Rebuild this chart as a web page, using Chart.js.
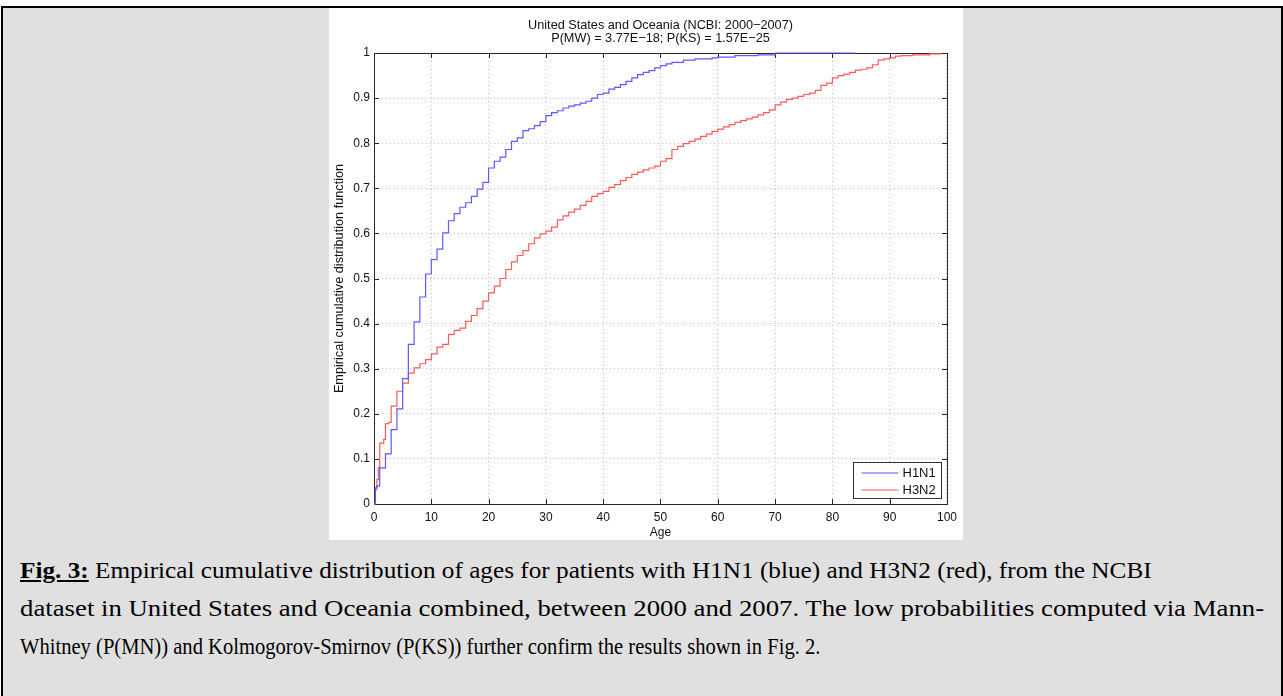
<!DOCTYPE html>
<html>
<head>
<meta charset="utf-8">
<script src="https://cdn.jsdelivr.net/npm/chart.js@4"></script>
<style>
  html, body { margin: 0; padding: 0; background: #fff; }
  #frame {
    position: absolute; left: 1px; top: 6px; width: 1278px; height: 700px;
    border: 2px solid #000; border-bottom: none; background: #e0e0e0;
  }
  #panel {
    position: absolute; left: 329px; top: 8px; width: 634px; height: 532px; background: #fff;
  }
  .cap {
    position: absolute; left: 20px; white-space: nowrap; transform-origin: 0 50%;
    font-family: "Liberation Serif", "Times New Roman", serif; font-size: 23px; line-height: 38px; color: #000;
  }
  .cap b { text-decoration: underline; }
</style>
</head>
<body>
<div id="frame"></div>
<div id="panel"><canvas id="ecdfChart"></canvas></div>
<div class="cap" style="top:552px; transform: scaleX(1.097)"><b>Fig. 3:</b> Empirical cumulative distribution of ages for patients with H1N1 (blue) and H3N2 (red), from the NCBI</div>
<div class="cap" style="top:590px; transform: scaleX(1.164)">dataset in United States and Oceania combined, between 2000 and 2007. The low probabilities computed via Mann-</div>
<div class="cap" style="top:628px; transform: scaleX(0.895)">Whitney (P(MN)) and Kolmogorov-Smirnov (P(KS)) further confirm the results shown in Fig. 2.</div>
<script>
const titleLines = ['United States and Oceania (NCBI: 2000\u22122007)', 'P(MW) = 3.77E\u221218; P(KS) = 1.57E\u221225'];
const seriesNames = ['H1N1', 'H3N2'];

// H1N1 ecdf steps (age, F)
const agesH1N1 = [0, 0.25, 0.5, 1, 2, 3, 4, 5, 6, 7, 8, 9, 10, 11, 12, 13, 14, 15, 16, 17, 18, 19, 20,
  21, 22, 23, 24, 25, 26, 27, 28, 29, 30, 31, 32, 33, 34, 35, 36, 37, 38, 39, 40, 41, 42, 43, 44, 45,
  46, 47, 48, 49, 50, 51, 52, 54, 56, 59, 60, 63, 67, 70, 84];
const cdfH1N1 = [0, 0.036, 0.04, 0.08, 0.111, 0.165, 0.211, 0.278, 0.354, 0.404, 0.459, 0.51, 0.542,
  0.565, 0.601, 0.628, 0.644, 0.658, 0.668, 0.682, 0.698, 0.713, 0.745, 0.76, 0.769, 0.786, 0.804,
  0.812, 0.828, 0.832, 0.839, 0.848, 0.861, 0.868, 0.872, 0.878, 0.882, 0.885, 0.889, 0.893, 0.9,
  0.908, 0.911, 0.92, 0.924, 0.93, 0.937, 0.945, 0.952, 0.957, 0.961, 0.967, 0.972, 0.976, 0.979,
  0.984, 0.987, 0.989, 0.991, 0.994, 0.996, 1.0, 1.0];

// H3N2 ecdf steps (age, F)
const agesH3N2 = [0, 0.25, 0.5, 0.75, 1, 1.7, 2, 2.6, 3, 4, 5, 6, 7, 8, 9, 10, 11, 12, 13, 14, 15, 16,
  17, 18, 19, 20, 21, 22, 23, 24, 25, 26, 27, 28, 29, 30, 31, 32, 33, 34, 35, 36, 37, 38, 39, 40, 41,
  42, 43, 44, 45, 46, 47, 48, 49, 50, 51, 52, 53, 54, 55, 56, 57, 58, 59, 60, 61, 62, 63, 64, 65, 66,
  67, 68, 69, 70, 71, 72, 73, 74, 75, 76, 77, 78, 79, 80, 81, 82, 83, 84, 85, 86, 87, 88, 89, 90, 91,
  92, 94, 97, 99];
const cdfH3N2 = [0, 0.032, 0.054, 0.08, 0.135, 0.143, 0.178, 0.181, 0.217, 0.25, 0.268, 0.29, 0.302,
  0.311, 0.32, 0.333, 0.348, 0.354, 0.376, 0.385, 0.39, 0.405, 0.418, 0.433, 0.45, 0.468, 0.483, 0.5,
  0.52, 0.537, 0.551, 0.562, 0.577, 0.59, 0.599, 0.605, 0.614, 0.63, 0.639, 0.647, 0.654, 0.662,
  0.671, 0.682, 0.688, 0.693, 0.702, 0.708, 0.717, 0.724, 0.731, 0.736, 0.741, 0.745, 0.749, 0.76,
  0.766, 0.786, 0.793, 0.799, 0.804, 0.809, 0.815, 0.82, 0.826, 0.831, 0.836, 0.841, 0.846, 0.85,
  0.854, 0.858, 0.863, 0.868, 0.874, 0.885, 0.891, 0.897, 0.9, 0.904, 0.908, 0.911, 0.917, 0.928,
  0.933, 0.945, 0.95, 0.953, 0.957, 0.962, 0.964, 0.967, 0.974, 0.984, 0.987, 0.989, 0.993, 0.994,
  0.996, 0.998, 1.0];

const axisColor = '#262626';
const fontFamily = 'Liberation Sans, Arial, sans-serif';
const tickFont = { family: fontFamily, size: 12 };
const labelFont = { family: fontFamily, size: 12.7 };

const toPoints = (xs, ys) => xs.map((x, i) => ({ x: x, y: ys[i] }));

// matlab-like box with inward ticks, drawn under the lines; title and legend on top
const boxPlugin = {
  id: 'box',
  beforeDatasetsDraw(chart) {
    const { ctx, chartArea: a, scales } = chart;
    ctx.save();
    ctx.strokeStyle = axisColor;
    ctx.lineWidth = 1;
    ctx.strokeRect(Math.round(a.left) + 0.5, Math.round(a.top) + 0.5,
      Math.round(a.right - a.left), Math.round(a.bottom - a.top));
    ctx.beginPath();
    scales.x.ticks.forEach(t => {
      const px = Math.round(scales.x.getPixelForValue(t.value)) + 0.5;
      ctx.moveTo(px, a.bottom); ctx.lineTo(px, a.bottom - 5);
      ctx.moveTo(px, a.top); ctx.lineTo(px, a.top + 5);
    });
    scales.y.ticks.forEach(t => {
      const py = Math.round(scales.y.getPixelForValue(t.value)) + 0.5;
      ctx.moveTo(a.left, py); ctx.lineTo(a.left + 5, py);
      ctx.moveTo(a.right, py); ctx.lineTo(a.right - 5, py);
    });
    ctx.stroke();
    ctx.restore();
  },
  afterDraw(chart) {
    const { ctx, chartArea: a } = chart;
    ctx.save();
    // title centred over the axes
    ctx.fillStyle = '#111';
    ctx.font = labelFont.size + 'px ' + fontFamily;
    ctx.textAlign = 'center';
    ctx.textBaseline = 'middle';
    const cx = (a.left + a.right) / 2;
    titleLines.forEach((t, i) => ctx.fillText(t, cx, a.top - 27.5 + i * 12.5));

    // legend
    const w = 88, h = 36;
    const lx = Math.round(a.right - 6 - w) + 0.5, ly = Math.round(a.bottom - 6 - h) + 0.5;
    ctx.fillStyle = '#fff';
    ctx.fillRect(lx, ly, w, h);
    ctx.strokeStyle = '#333';
    ctx.lineWidth = 1;
    ctx.strokeRect(lx, ly, w, h);
    ctx.font = '13px ' + fontFamily;
    ctx.textAlign = 'left';
    chart.data.datasets.forEach((ds, i) => {
      const yy = ly + 10.5 + i * 17;
      ctx.strokeStyle = ds.borderColor;
      ctx.lineWidth = 1.2;
      ctx.beginPath();
      ctx.moveTo(lx + 8, yy); ctx.lineTo(lx + 45, yy);
      ctx.stroke();
      ctx.fillStyle = '#111';
      ctx.fillText(ds.label, lx + 49, yy + 0.5);
    });
    ctx.restore();
  }
};

const ctx = document.getElementById('ecdfChart').getContext('2d');
new Chart(ctx, {
  type: 'line',
  data: {
    datasets: [{
      label: seriesNames[0],
      data: toPoints(agesH1N1, cdfH1N1),
      borderColor: '#5a5aff',
      borderWidth: 1.2,
      stepped: 'before',
      pointRadius: 0,
      clip: 3,
      fill: false
    }, {
      label: seriesNames[1],
      data: toPoints(agesH3N2, cdfH3N2),
      borderColor: '#ff5a5a',
      borderWidth: 1.2,
      stepped: 'before',
      pointRadius: 0,
      clip: 3,
      fill: false
    }]
  },
  options: {
    responsive: true,
    maintainAspectRatio: false,
    animation: false,
    layout: { padding: { left: 0, right: 16, top: 45, bottom: 0 } },
    plugins: {
      legend: { display: false },
      tooltip: { enabled: false },
      title: { display: false }
    },
    scales: {
      x: {
        type: 'linear',
        min: 0,
        max: 100,
        afterFit: s => { s.height = 36; },
        ticks: { stepSize: 10, color: '#111', font: tickFont, padding: 6, maxRotation: 0 },
        grid: { color: '#bdbdbd', drawTicks: false },
        border: { display: false, dash: [1, 3] },
        title: { display: true, text: 'Age', color: '#111', font: tickFont, padding: { top: 0, bottom: 0 } }
      },
      y: {
        min: 0,
        max: 1,
        afterFit: s => { s.width = 45; },
        ticks: {
          stepSize: 0.1, color: '#111', font: tickFont, padding: 4,
          callback: v => String(Number(v.toFixed(1)))
        },
        grid: { color: '#bdbdbd', drawTicks: false },
        border: { display: false, dash: [1, 3] },
        title: { display: true, text: 'Empirical cumulative distribution function', color: '#111', font: labelFont, padding: { top: 3, bottom: 0 } }
      }
    }
  },
  plugins: [boxPlugin]
});
</script>
</body>
</html>
